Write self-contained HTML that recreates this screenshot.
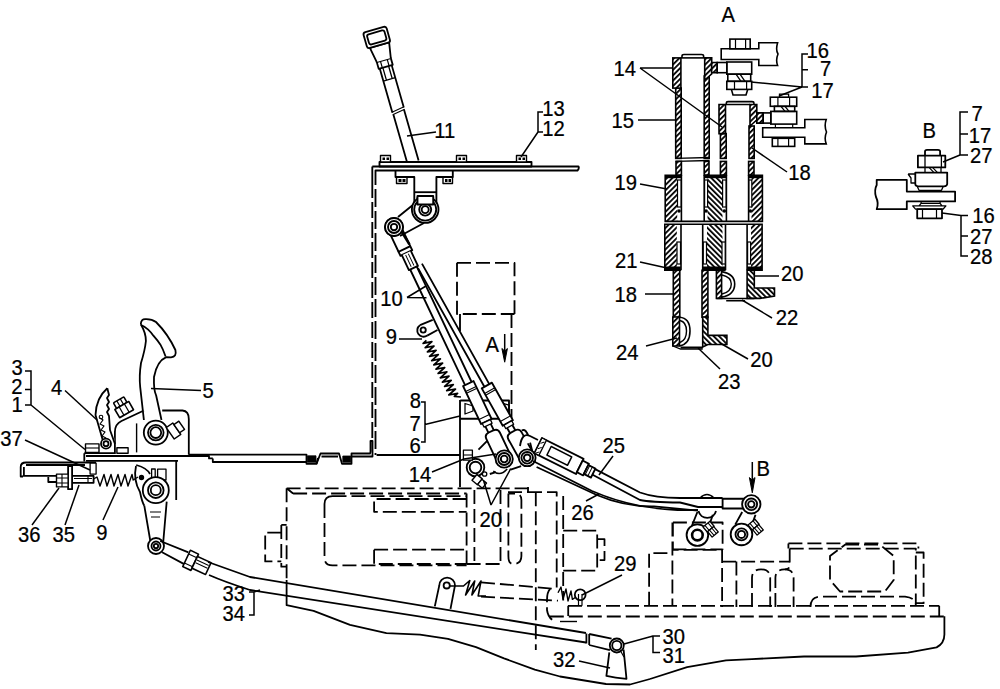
<!DOCTYPE html>
<html><head><meta charset="utf-8">
<style>
html,body{margin:0;padding:0;background:#fff;overflow:hidden;}
svg{display:block;}
text{font-family:"Liberation Sans",sans-serif;font-size:21.5px;fill:#000;stroke:#000;stroke-width:0.25px;}
</style></head>
<body>
<svg width="1000" height="689" viewBox="0 0 1000 689">
<g fill="none" stroke="#000" stroke-width="1.8" stroke-linejoin="round">
<!-- left casing -->
<g stroke-dasharray="14,5">
<path d="M286.6,488.3 H530 M293.1,493.5 H466.6 M286.6,488.3 L293.1,493.5"/>
<path d="M286.6,488.3 V580"/>
<path d="M281.3,524.9 H286.6 M281.3,524.9 V566.7 H286.6 M281.3,532.7 H265.2 V561.4 H281.3"/>
<path d="M332.5,496.1 H466.6 M324.5,504 V557.4 Q324.5,565.4 332.5,565.4 H466.6 M324.5,504 Q324.5,496.1 332.5,496.1"/>
<path d="M466.6,499 H374.1 V511.8 H466.6 M374.1,549.7 V564 H466.6 M374.1,549.7 H466.6"/>
<path d="M466.6,493.5 V564 M474.4,490 V564 M500.5,490 V564 M466.6,564 H500.5"/>
<path d="M508.4,493.5 V556 Q508.4,564 513,564 Q521.4,564 521.4,556 V500 Q521.4,493.5 515,493.5 H508.4"/>
<path d="M535.8,492.2 V650 M508,492.2 H528 L528,487 M528,492.2 H556.7 V587.6 M563.2,496 V600.6"/>
<path d="M563.2,530.6 H597.2 V570.6 H563.2 M597.2,539.2 H604.5 V560.1 H597.2"/>
<path d="M481,582.3 L555.4,588.9 M481,596.7 L558,600.6"/>
<path d="M550.2,588.9 Q547,592 547,600 V610 Q548,617 552.8,620.2"/>
<path d="M568,605.8 H939.2 M549.8,616.5 H944.4"/>
<path d="M649.1,605.8 V553.1 H672.4 M672.4,522.5 V605.8 M672.4,549.4 H722.6 M672.9,522.5 H722.6 V549.8 M672.9,522.5 V549.8 H722.6"/>
<path d="M722.1,549 V607 M736.4,561.6 V607 M722.1,561.6 H789.7"/>
<path d="M752,607 V578 Q752,569.4 761,569.4 Q770.2,569.4 770.2,578 V607 M775.4,607 V578 Q775.4,569.4 784.5,569.4 Q793.6,569.4 793.6,578 V607"/>
<path d="M789.7,548.6 V566 Q789.7,569 785,569.4"/>
<path d="M789.7,548.6 H915.8 V603.2 M788.4,543.4 H918.4 V548.6 M788.4,543.4 V548.6 M915.8,552.5 H923.6 V603.2 H915.8"/>
<path d="M845,544.7 H880 L893.7,556 V580 L885,591.5 H840 L830,580 V556 Z"/>
<path d="M810.5,607 Q810.5,596.7 820,596.7 H905 Q915.8,598 915.8,605"/>
</g>
<path d="M286.6,580 V605.2 L313.6,610.8 L350,624.8 L386.4,633.2 L420,634.6 L448,638.8 L476,647.2 L504,658.4 L534.8,669.6 L560,676.5 L606,684 L630,684.5 L650,679"/>
<path d="M650,679 L687.1,667.1 L726,660.4 L752,659.1 L804,656.5 L856,656.5 L908,652.6 L936.6,647.4 Q944.4,643 944.4,634.4 V616.2 M939.2,605.8 V616.2"/>
<path d="M560,621.5 H577" stroke-width="1.4"/>
<!-- spring 29 region -->
<path d="M434.8,606.4 L439.3,585.4 A7.8,7.8 0 0 1 455,585.4 L450.5,608.8" fill="#fff"/>
<circle cx="446.7" cy="585.4" r="3.1"/>
<path d="M449.8,586 H463.5 L469.8,580.5 L465.6,595 L474.7,581 L471.9,595 L481,581 L478.2,596 H486" stroke-width="1.6"/>
<path d="M558,592.8 L561,587 L563,599 L566,589 L568,601 L571,591 L572.4,599.3 L576,597" stroke-width="1.4"/>
<circle cx="580.2" cy="594.8" r="5.4" fill="#fff"/>
<path d="M578.5,594 V605.8 M582,594 V605.8" stroke-width="1.2"/>
<path d="M568.2,605.8 V616"/>
</g>

<g fill="none" stroke="#000" stroke-width="1.85" stroke-linejoin="round">
<!-- lever 11 -->
<g transform="translate(413,162) rotate(-16)" fill="#fff" stroke-width="1.8">
  <path d="M-5.8,0 V-51 M5.8,0 V-53 M-6.2,-53 V-99 M6.2,-55 V-99"/>
  <path d="M-6.5,-51 L6.5,-53 M-6.5,-53.5 L6.5,-55.5" stroke-width="1.1"/>
  <path d="M-3,-99 V-86 M3,-99 V-86 M-6.2,-86 H6.2" stroke-width="1.3"/>
  <path d="M-7.3,-99 H7.3 V-106 H-7.3 Z"/>
  <path d="M-3.5,-99 V-106 M3.5,-99 V-106" stroke-width="1.2"/>
  <path d="M-7.3,-106 L-10,-121.5 H10 L7.3,-106"/>
  <rect x="-12.5" y="-138" width="24" height="16.5" rx="2.5"/>
  <rect x="-9.5" y="-135" width="18" height="10.5" rx="2"/>
</g>
<!-- top plate -->
<rect x="379.5" y="162" width="152" height="4.5" fill="#fff"/>
<path d="M372.3,166.5 H578.5 Q579.5,168.5 577.5,170.5 H375.5 V176" />
<path d="M372.3,166.5 V182" />
<path d="M372.3,182 V441" stroke-dasharray="16,4"/>
<path d="M375.5,176 V455" stroke-dasharray="18,4" stroke-dashoffset="9"/>
<!-- nuts above -->
<g stroke-width="1.4">
<rect x="380.5" y="155.5" width="10" height="6.5" fill="#fff"/>
<rect x="456.5" y="155.5" width="10" height="6.5" fill="#fff"/>
<rect x="516.5" y="155.5" width="10" height="6.5" fill="#fff"/>
<rect x="396.5" y="177" width="10.5" height="6.5" fill="#fff"/>
<rect x="443" y="177" width="9.5" height="6.5" fill="#fff"/>
</g>
<g fill="#000" stroke="none">
<rect x="382.5" y="157.5" width="2.5" height="2.5"/><rect x="386.5" y="157.5" width="2.5" height="2.5"/>
<rect x="458.5" y="157.5" width="2.5" height="2.5"/><rect x="462.5" y="157.5" width="2.5" height="2.5"/>
<rect x="518.5" y="157.5" width="2.5" height="2.5"/><rect x="522.5" y="157.5" width="2.5" height="2.5"/>
<rect x="398.5" y="179" width="3" height="3"/><rect x="402.5" y="179" width="3" height="3"/>
<rect x="445" y="179" width="2.5" height="3"/><rect x="448.5" y="179" width="2.5" height="3"/>
</g>
<!-- bracket under plate -->
<path d="M395.5,170.5 V177 H414.3 V205 M452.8,170.5 V177 H436.4 V205" />
<path d="M414.3,192.2 H436.4"/>
<rect x="417.5" y="197.2" width="15.7" height="7.3"/>
<!-- link arm -->
<path d="M398,217 L419,200 M400,236 L424,223" fill="#fff"/>
<circle cx="425.2" cy="209.6" r="13.3" fill="#fff"/>
<circle cx="425.2" cy="209.6" r="11"/>
<circle cx="425.2" cy="209.6" r="6"/>
<circle cx="425.2" cy="209.6" r="3.5"/>
<rect x="417.5" y="196" width="15.7" height="8.5" fill="#fff"/>
<circle cx="394" cy="227" r="9" fill="#fff"/>
<circle cx="394" cy="227" r="6"/>
<circle cx="394" cy="227" r="3.5"/>
</g>

<g fill="none" stroke="#000" stroke-width="1.85" stroke-linejoin="round">
<!-- dashed box upper -->
<path d="M457,262.8 H514.5 V314 M457,262.8 V314 H514.5" stroke-dasharray="14,5"/>
<path d="M460,314 V331 M460,400 V487"/>
<path d="M511.5,314 V420" stroke-dasharray="14,5"/>
<path d="M376.6,455 H460"/>
<!-- bracket block 6/7/8 behind -->
<path d="M460.3,400.5 H509 V418.7 H460.3" />
<path d="M465,403.5 L473,406 L473,411 L465,414 Z M502,403 L509,405 V412 L502,414 Z" stroke-width="1.3"/>
<!-- spring 9 -->
<path d="M420,325.2 L432.7,319.9 M427.2,335.6 L437.5,330" />
<path d="M420,325.2 A6,6 0 0 0 427.2,335.6"/>
<circle cx="423.2" cy="330" r="2.6"/>
<path d="M426.4,340.4 L423.1,343.4 L431.9,341.7 L425.2,347.7 L434.0,346.0 L427.4,352.0 L436.1,350.3 L429.5,356.3 L438.3,354.6 L431.7,360.6 L440.4,358.9 L433.8,364.9 L442.6,363.2 L436.0,369.2 L444.7,367.5 L438.1,373.5 L446.9,371.8 L440.3,377.8 L449.0,376.1 L442.4,382.1 L451.2,380.4 L444.6,386.4 L453.3,384.7 L446.7,390.7 L455.5,389.0 L448.8,395.0 L457.6,393.3 L454.3,396.3 L461,397" stroke-width="1.7"/>
<path d="M478.5,449.6 L487.2,440.9 M521.8,430.5 Q526,428 528.8,437.5 L535,462 M521.1,466.1 L510.7,469.6 M495.9,472.2 L489.8,474"/>
<path d="M493.3,471 Q500,477 507.2,469" stroke-width="1.5"/>
<!-- rod B -->
<g transform="translate(415.6,258) rotate(-29.2)" fill="#fff">
  <path d="M-2.8,10 V146 M2.8,8 V146"/>
  <rect x="-5.8" y="146" width="11.6" height="43"/>
  <path d="M-5.8,152 H5.8 M-5.8,154 H5.8 M-5.8,184 H5.8" stroke-width="1.1"/>
  <path d="M-4.5,189 H4.5 V193 H-4.5 Z" stroke-width="1.3"/>
  <path d="M-3,193 V199 M3,199 V193"/>
  <path d="M-7.5,228 V204 Q-7.5,199 -2.5,199 H2.5 Q7.5,199 7.5,204 V228"/>
</g>
<!-- rod A -->
<g transform="translate(408.7,258) rotate(-25.4)" fill="#fff">
  <path d="M-3.6,11 V139 M3.6,11 V139"/>
  <rect x="-5.8" y="139" width="11.6" height="42"/>
  <path d="M-5.8,145 H5.8 M-5.8,147 H5.8 M-5.8,176 H5.8" stroke-width="1.1"/>
  <path d="M-4.5,181 H4.5 V185 H-4.5 Z" stroke-width="1.3"/>
  <path d="M-3,185 V192 M3,192 V185"/>
  <path d="M-7.5,221 V197 Q-7.5,192 -2.5,192 H2.5 Q7.5,192 7.5,197 V221"/>
  <!-- top rod end -->
  <path d="M-6.5,-10 H6.5 V-5.5 H-6.5 Z" fill="#fff"/>
  <path d="M-5,-5.5 V11 H5 V-5.5" fill="#fff"/>
  <path d="M-1.5,-4 V9 M1.5,-4 V9" stroke-width="0.9"/>
  <path d="M-6.5,-10 L-6.5,-30 M6.5,-10 L6.5,-28" />
  <path d="M6.5,-12 L5,-27" stroke-width="2.6"/>
</g>
<circle cx="394" cy="227" r="9" fill="#fff"/>
<circle cx="394" cy="227" r="6"/>
<circle cx="394" cy="227" r="3.2"/>
<!-- lower cluster: bracket plate -->
<circle cx="504.2" cy="459" r="8.6" fill="#fff"/>
<circle cx="504.2" cy="459" r="6"/>
<circle cx="504.2" cy="459" r="3.4"/>
<circle cx="527.2" cy="457.8" r="8.4" fill="#fff"/>
<circle cx="527.2" cy="457.8" r="5.8"/>
<circle cx="527.2" cy="457.8" r="3.3"/>
<!-- ring 14 -->
<circle cx="475.5" cy="467.5" r="8.8" fill="#fff"/>
<circle cx="475.5" cy="467.5" r="5.8"/>
<rect x="463.4" y="450.2" width="9" height="10" fill="#fff" stroke-width="1.3"/>
<path d="M463.4,455 H472.4" stroke-width="1.1"/>
<g transform="translate(479.8,481.8) rotate(40)" fill="#fff" stroke-width="1.4"><rect x="-7" y="-3.8" width="7" height="7.6"/><rect x="0" y="-3.3" width="6" height="6.6"/></g>
<circle cx="484.6" cy="474" r="2.2" fill="#fff" stroke-width="1.3"/>
</g>

<g fill="none" stroke="#000" stroke-width="1.85" stroke-linejoin="round">
<!-- rod 26 (lower) -->
<path d="M533,461 L592,491 Q640,512 698,510" />
<path d="M536.6,467 L596.8,495 Q625,507 654,506.4 L698,510.6"/>
<!-- rod 25 -->
<path d="M588.4,465.6 L640,492.5 Q655,498 680,498 H722.6"/>
<path d="M591.2,474 L640,500 Q650,502.2 680,502.5 L698,507 H722.6"/>
<!-- left eye (under rod) -->
<path d="M698.5,511 A9,9 0 0 0 716,511" />
<path d="M700,498 Q707,491 714,498" stroke-width="1.5"/>
<!-- left pivot arm -->
<path d="M697.4,512 L691.8,526 M712.8,514.8 L709.3,525.3"/>
<circle cx="697.4" cy="535.1" r="10.8" fill="#fff"/>
<circle cx="697.4" cy="535.1" r="5.3" stroke-width="2.6"/>
<g transform="translate(711,529.5) rotate(-40)"><rect x="-4.5" y="-7" width="9" height="6.5" fill="#fff" stroke-width="1.3"/><rect x="-4" y="-0.5" width="8" height="7" fill="#fff" stroke-width="1.3"/><path d="M-2,-7 V-0.5 M2,-7 V-0.5 M-1.5,-0.5 V6.5 M1.5,-0.5 V6.5" stroke-width="1"/></g>
<!-- right pivot arm -->
<path d="M742.2,512 L735.2,524.6 M755.5,514.8 L752,524.6"/>
<circle cx="741.5" cy="534.4" r="10.8" fill="#fff"/>
<circle cx="741.5" cy="534.4" r="6"/>
<circle cx="741.5" cy="534.4" r="3.6"/>
<g transform="translate(756,527.5) rotate(-40)"><rect x="-4.5" y="-7" width="9" height="6.5" fill="#fff" stroke-width="1.3"/><rect x="-4" y="-0.5" width="8" height="7" fill="#fff" stroke-width="1.3"/><path d="M-2,-7 V-0.5 M2,-7 V-0.5 M-1.5,-0.5 V6.5 M1.5,-0.5 V6.5" stroke-width="1"/></g>
<!-- rod 25 end -->
<rect x="722.6" y="498.7" width="21" height="9.8" fill="#fff"/>
<circle cx="751.3" cy="504.3" r="9.2" fill="#fff"/>
<circle cx="751.3" cy="504.3" r="5.8"/>
<circle cx="751.3" cy="504.3" r="3.2"/>
<!-- actuator body on rod 25 -->
<g transform="translate(538.2,445.6) rotate(26.6)" fill="#fff">
  <rect x="0" y="-8.5" width="46.5" height="17"/>
  <rect x="0" y="-8.5" width="5" height="17" stroke-width="1.3"/>
  <path d="M1,-3 L4,-6 M1,3 L4,0 M1,8 L4,5" stroke-width="1"/>
  <rect x="12" y="-5" width="23" height="9.5" stroke-width="1.5"/>
  <rect x="46.5" y="-6.5" width="7" height="13"/>
  <rect x="53.5" y="-5" width="8" height="10"/>
  <path d="M55,-5 V5 M58,-5 V5" stroke-width="1"/>
</g>
<path d="M520,446 Q522,432 530,436 L538,440" fill="#fff"/>
</g>

<g fill="none" stroke="#000" stroke-width="1.8" stroke-linejoin="round">
<!-- long plate from bracket to panel -->
<path d="M188.8,454.6 H306.5 V463.8 H316.5 L320.5,453.5 H339 L342,463.8 H351.5 V453.5 H370 Q370.5,453 370.5,451 V441 H372.5 V456.5 H351.5"/>
<path d="M212.8,458.4 V462 H306.5 M321.5,456.5 H338 M316.5,463.8 L318,458"/>
<rect x="307.5" y="455.8" width="8.5" height="6.5" fill="#000" stroke-width="0.8"/>
<rect x="342.8" y="456" width="8" height="6.3" fill="#000" stroke-width="0.8"/>
<path d="M212.8,458.4 H209 V456 H86"/>
<path d="M86,460.8 H178"/>
<!-- bracket upright -->
<path d="M114.9,454 V432 Q115,424 121.5,421 L143.9,410.5 M162.2,410.5 H182.5 Q188.8,411 188.8,419 V454.8"/>
<path d="M136.6,423.4 V452.4" stroke-width="1.4"/>
<!-- base plate -->
<path d="M84.3,453.2 V461.4 M84.3,453.2 H115"/>
<path d="M86,462.5 H96 M176.2,461 V500"/>
<!-- foot plate 37 -->
<path d="M86,462.5 H26 Q20.7,462.5 20.7,467 V476.5 H23 M23.9,467 V476 M26,465 H85 M22.8,475.9 H68.1"/>
<rect x="68.1" y="466" width="4" height="23.2" fill="#fff"/>
<rect x="90.1" y="463.1" width="6" height="11" fill="#fff" stroke-width="1.3"/>
<!-- bolt 35/36 -->
<path d="M48.3,477 V482 H56.5 M72.1,475.9 H93.6 V482.8 H72.1"/>
<rect x="56.5" y="474.1" width="11.6" height="12.8" fill="#fff" stroke-width="1.4"/>
<path d="M56.5,478 H68.1 M56.5,483 H68.1 M62,474.1 V486.9" stroke-width="1.1"/>
<path d="M74,478.5 H92 M88,476 V482.8" stroke-width="1.1"/>
<!-- spring 9 lower -->
<path d="M93.6,479 L97,477 L100,486 L104,474.5 L107,486 L111,474.5 L114,486 L118,474.5 L121,486 L125,474.5 L128,486 L132,474.5 L133.2,480 L138,477" stroke-width="1.4"/>
<circle cx="141.5" cy="477.5" r="1.8" fill="#000"/>
<!-- lower bracket around hub -->
<path d="M136.2,465 Q147,468 150,474 M136,466 Q133,480 140,492 Q142,502 144.3,505.7"/>
<rect x="151.6" y="469" width="3.6" height="11" stroke-width="1.3"/><rect x="157.6" y="469.2" width="8.4" height="10.8" stroke-width="1.3"/>
<!-- arm 33 -->
<path d="M144.3,505.7 L151,545 M166.7,501.6 L163,545" fill="#fff"/>
<path d="M150,512 H161 M151,517 H160" stroke-width="1.2"/>
<circle cx="155.8" cy="490.2" r="13" fill="#fff"/>
<circle cx="155.8" cy="490.2" r="7.8"/>
<circle cx="155.8" cy="490.2" r="5"/>
<circle cx="156" cy="546" r="8" fill="#fff"/>
<circle cx="156" cy="546" r="4.5"/>
<circle cx="156" cy="546" r="2.2"/>
<!-- ratchet 4 -->
<path d="M107.3,388.2 Q96,398 95.5,415 L103,441 M107.3,388.2 L109,395 L107,398 L109,402 L107,405 L109,409 L107,412 L109,416 L110,430 L115,444" fill="#fff"/>
<path d="M100,418 L103,420 L100,424 L104,426 L101,430 L105,432 L102,436 L106,438" stroke-width="1.2"/>
<circle cx="101" cy="417" r="1.8" stroke-width="1.1"/>
<circle cx="106" cy="443.7" r="5" fill="#fff"/>
<circle cx="106" cy="443.7" r="2.5"/>
<rect x="85.5" y="443.9" width="13.5" height="8.5" fill="#fff" stroke-width="1.4"/>
<path d="M85.5,448 H99" stroke-width="1.1"/>
<rect x="116.9" y="447.8" width="11.2" height="5.5" fill="#fff" stroke-width="1.4"/>
<!-- bolt stack upper -->
<g transform="translate(125,410) rotate(-30)" fill="#fff" stroke-width="1.6">
<rect x="-6.5" y="-12" width="12" height="6.5" rx="1"/><path d="M-2.5,-12 V-5.5 M1.5,-12 V-5.5" stroke-width="1.2"/>
<rect x="-8.5" y="-5.5" width="16" height="9.5"/><path d="M-3.5,-5.5 V4 M2.5,-5.5 V4" stroke-width="1.3"/>
</g>
<!-- pedal 5 -->
<path d="M140.8,324.2 Q141,318.5 146,319.1 Q152,319 156,322 Q168,334 175.4,350 Q177,357 171,357.3 L166.2,357.1 Q157,361 154,377 Q153.5,390 156.1,395.3 L161.5,420 M140.8,324.2 Q146,333 145.9,341 Q145,350 141,363 Q139,376 140.2,387.2 L143.9,420" fill="#fff"/>
<circle cx="155.8" cy="432.6" r="12" fill="#fff"/>
<circle cx="155.8" cy="432.6" r="7.8"/>
<circle cx="155.8" cy="432.6" r="5.4"/>
<g transform="translate(173.5,431) rotate(-35)" fill="#fff" stroke-width="1.4">
<rect x="-4" y="-7" width="8" height="14"/><rect x="4" y="-5" width="6" height="10"/>
</g>
<path d="M141,325 Q148,328 153.4,335.7 Q158,341 160.3,344.4 Q163,349 165.6,356.5"/>
</g>

<g fill="none" stroke="#000" stroke-width="1.8" stroke-linejoin="round">
<!-- rod end from arm eye -->
<path d="M160.2,541 L188.4,552.3 M162.1,552.3 L186.5,565.4"/>
<g transform="translate(192,561) rotate(25)" fill="#fff" stroke-width="1.6">
<rect x="-6" y="-9" width="9" height="18"/>
<rect x="3" y="-6.5" width="15" height="13"/>
<path d="M-6,-5 H3 M-6,5 H3" stroke-width="1.1"/>
<path d="M4,-3 H17 M4,0 H17" stroke-width="1"/>
</g>
<path d="M208,562 Q225,568 250,577 L586,633 M209,575 Q225,582 250,590 L586,642.5" stroke-width="1.8"/>
<path d="M586.4,633.5 V643.4 M589.2,634 V645 M589.2,634 L611.6,638.7 M589.2,645 L609.9,650.1"/>
<!-- lever 32 -->
<path d="M609.3,652.4 L606.4,675.9 Q615,678 626.5,678.8 L623.6,649.6" fill="#fff"/>
<circle cx="616.8" cy="645.5" r="7" fill="#fff"/>
<circle cx="616.8" cy="645.5" r="4.6"/>
<path d="M620,650 L624,657" stroke-width="1.2"/>
</g>

<defs>
<pattern id="h" patternUnits="userSpaceOnUse" width="3.8" height="3.8" patternTransform="rotate(45)">
<rect width="3.8" height="3.8" fill="#fff"/>
<rect x="0" y="0" width="1.8" height="3.8" fill="#000"/>
</pattern>
<pattern id="h2" patternUnits="userSpaceOnUse" width="3.8" height="3.8" patternTransform="rotate(-45)">
<rect width="3.8" height="3.8" fill="#fff"/>
<rect x="0" y="0" width="1.8" height="3.8" fill="#000"/>
</pattern>
</defs>
<g fill="none" stroke="#000" stroke-width="1.6" stroke-linejoin="miter">
<!-- left tube walls -->
<rect x="675.7" y="88" width="5.5" height="70.4" fill="url(#h)"/>
<rect x="704.2" y="76" width="5" height="82.4" fill="url(#h)"/>
<rect x="676" y="161.4" width="5.4" height="13.8" fill="url(#h)"/>
<rect x="704.2" y="161.4" width="4.8" height="13.8" fill="url(#h)"/>
<path d="M675.7,158.4 L709.5,157.5 M675.7,161.4 L709.5,160.5" stroke-width="1.3"/>
<!-- left collar 14 -->
<rect x="672.8" y="57.9" width="8.1" height="30.2" fill="url(#h)"/>
<path d="M704.7,57.9 H711.7 V74 L704.7,80 Z" fill="url(#h)"/>
<path d="M682,57.9 V56 Q682,54.5 684,54.5 H701.5 Q703.6,54.5 703.6,56 V57.9"/>
<path d="M680.9,57.9 H704.7"/>
<path d="M711.7,62.5 L717.2,62.5 V72.7 H711.7 Z" fill="url(#h)"/>
<rect x="717.2" y="62.5" width="9.6" height="10.2"/>
<rect x="726.8" y="62" width="24.9" height="12.2"/>
<rect x="727.8" y="74.2" width="22.9" height="7.1"/>
<path d="M736,74.2 L741,81.3 M740,74.2 L745,81.3" stroke-width="1.3"/>
<rect x="726.8" y="81.3" width="24.9" height="8.1"/>
<path d="M734.5,81.3 V89.4 M746.6,81.3 V89.4" stroke-width="1.2"/>
<path d="M731.4,89.4 L733,95 H746 L747.7,89.4"/>
<path d="M721.2,48.8 H758.8 V42.7 H777.6 Q775.5,50 778,54 Q775.5,60 777.6,65.5 H758.8 V59.5 H721.2 Z" fill="#fff"/>
<rect x="729.9" y="39.1" width="20.3" height="9.7" fill="#fff"/>
<path d="M735.5,39.1 V48.8 M745.6,39.1 V48.8" stroke-width="1.2"/>
<!-- right tube (tube 2) -->
<rect x="720.4" y="133.6" width="5.8" height="24.8" fill="url(#h)"/>
<rect x="749" y="126" width="5.2" height="32.4" fill="url(#h)"/>
<rect x="720.4" y="161.4" width="6" height="13.8" fill="url(#h)"/>
<rect x="748.6" y="161.4" width="5.4" height="13.8" fill="url(#h)"/>
<path d="M719,104.5 H725.5 V133.6 H719 Z" fill="url(#h)"/>
<path d="M750,104.5 H756.8 V120 L750,126 Z" fill="url(#h)"/>
<path d="M726.3,104.5 V103 Q726.3,101.6 728,101.6 H752 Q753.9,101.6 753.9,103 V104.5 M725.5,104.5 H750"/>
<path d="M756.8,112.9 L763.2,112.9 V123.1 H756.8 Z" fill="url(#h)"/>
<rect x="763.2" y="112.9" width="7.6" height="10.2"/>
<rect x="770.8" y="111.4" width="25.9" height="12.7"/>
<rect x="774.4" y="106.3" width="20.3" height="5.1"/>
<path d="M781,106.3 L785,111.4 M785,106.3 L789,111.4" stroke-width="1.3"/>
<rect x="770.3" y="97.2" width="26.4" height="9.1"/>
<path d="M777.9,97.2 V106.3 M789.6,97.2 V106.3" stroke-width="1.2"/>
<path d="M779.5,97.2 V94.1 H788.6 V97.2" stroke-width="1.3"/>
<path d="M775.4,124.1 V127.7 M792.7,124.1 V127.7" stroke-width="1.2"/>
<path d="M762.7,127.7 H804.8 V119.5 H826.2 Q824,126 826.5,132 Q824,138 826.2,143.9 H804.8 V137.3 H762.7 Z" fill="#fff"/>
<rect x="772.3" y="138.3" width="22.4" height="8.1"/>
<path d="M777.9,138.3 V146.4 M788.6,138.3 V146.4" stroke-width="1.2"/>
<!-- housing 19 -->
<rect x="665.2" y="175.2" width="12" height="46.2" fill="url(#h)" stroke="none"/>
<rect x="707.5" y="175.2" width="15" height="46.2" fill="url(#h2)" stroke="none"/>
<rect x="751.5" y="175.2" width="10.9" height="46.2" fill="url(#h)" stroke="none"/>
<path d="M681.4,175.2 H665.2 V221.4 H762.4 V175.2 H748.6 M704.2,175.2 H726.4"/>
<path d="M681.4,175.2 V221.4 M704.2,175.2 V221.4 M726.4,175.2 V221.4 M748.6,175.2 V221.4"/>
<g stroke-width="1.2" fill="#fff">
<rect x="677.5" y="180" width="3.5" height="27"/><rect x="704.6" y="180" width="3" height="27"/>
<rect x="722.6" y="180" width="3.4" height="27"/><rect x="749" y="180" width="2.8" height="27"/>
</g>
<g fill="#000" stroke="none">
<circle cx="679" cy="211" r="1.8"/><circle cx="706" cy="211" r="1.8"/><circle cx="724.3" cy="211" r="1.8"/><circle cx="750.3" cy="211" r="1.8"/>
<rect x="665.2" y="175.2" width="16" height="3"/><rect x="704.2" y="175.2" width="22" height="3"/><rect x="748.6" y="175.2" width="13.8" height="3"/>
</g>
<!-- housing 21 -->
<rect x="664.8" y="224.2" width="12" height="46.1" fill="url(#h)" stroke="none"/>
<rect x="707" y="224.2" width="15.5" height="46.1" fill="url(#h2)" stroke="none"/>
<rect x="751" y="224.2" width="11.1" height="46.1" fill="url(#h)" stroke="none"/>
<path d="M681,270.3 H664.8 V224.2 H762.1 V270.3 H747.1 M702.7,270.3 H725.5"/>
<path d="M681,224.2 V270.3 M702.7,224.2 V270.3 M725.5,224.2 V270.3 M747.1,224.2 V270.3"/>
<g stroke-width="1.2" fill="#fff">
<rect x="677" y="242" width="3.5" height="22"/><rect x="703.3" y="242" width="3.2" height="22"/>
<rect x="722" y="242" width="3.2" height="22"/><rect x="747.6" y="242" width="3" height="22"/>
</g>
<g fill="#000" stroke="none">
<rect x="664.8" y="266.5" width="16" height="3.8"/><rect x="702.7" y="266.5" width="22.8" height="3.8"/><rect x="747.1" y="266.5" width="15" height="3.8"/>
</g>
<!-- left tube lower -->
<rect x="673.3" y="270.3" width="6.5" height="47" fill="url(#h)"/>
<rect x="702" y="270.3" width="5.9" height="47" fill="url(#h)"/>
<path d="M672.8,317 H679.5 V346 H672.8 Z" fill="url(#h)"/>
<path d="M679.5,317.2 Q690,318 690,331 Q690,344 679.5,346" stroke-width="1.6"/>
<path d="M680,320.5 Q686.5,322 686.5,331 Q686.5,340 680,342.5" stroke-width="1.4"/>
<path d="M702.7,317 H707.9 V335.4 H726.9 V344.5 H707.9 L702.7,347 Z" fill="url(#h2)"/>
<path d="M680.6,347.5 H702.7" stroke-width="2"/>
<path d="M672.8,346 L680.6,349 H702.7" stroke-width="1.3"/>
<!-- right tube lower -->
<rect x="716.4" y="270.3" width="5.2" height="28.1" fill="url(#h)"/>
<path d="M721.6,271.6 Q734.7,274 734.7,284 Q734.7,295 721.6,297.1" stroke-width="1.6"/>
<path d="M722,275 Q731.3,277 731.3,284 Q731.3,292 722,294" stroke-width="1.4"/>
<path d="M747.1,270.3 H754.3 V288 H774.5 V296 L760,298.4 H747.1 Z" fill="url(#h2)"/>
<path d="M716.4,298.4 H754.3 M726.2,300.7 H745.1" stroke-width="1.5"/>
</g>

<g fill="none" stroke="#000" stroke-width="1.8" stroke-linejoin="round">
<path d="M876.7,179.8 H906.8 V191.6 H955.1 V201.4 H906.8 V209.2 H876.7 Q879,203 876,197 Q874,190 876.7,185 Z"/>
<path d="M925,155.7 V151.5 Q925,149.8 927,149.8 H938 Q940.1,149.8 940.1,151.5 V155.7"/>
<rect x="917.9" y="155.7" width="27.4" height="11.7"/>
<path d="M925,155.7 V167.4 M941.4,155.7 V167.4" stroke-width="1.3"/>
<path d="M925,167.4 V172.6 M941,167.4 V172.6 M929,167.4 L934,172.6 M932.5,167.4 L937.5,172.6" stroke-width="1.3"/>
<path d="M915.3,172.6 H947.2 V184 Q947,186.3 944,186.3 H918 Q915.3,186 915.3,184 Z"/>
<path d="M908.1,174 H915.3 M908.1,174 L911,178 V183 H915.3" stroke-width="1.3"/>
<path d="M917.2,186.3 L919,190.3 H941.5 L943.3,186.3" stroke-width="1.3"/>
<path d="M921.1,201.4 V203.3 H940.1 V201.4 M912.7,205.9 H945.9 L943,209.2 H915.5 Z M921.1,203.3 L919,205.9 M940.1,203.3 L942,205.9" stroke-width="1.3"/>
<rect x="917.2" y="209.2" width="24.8" height="9.1"/>
<path d="M922.5,209.2 V218.3 M936.5,209.2 V218.3" stroke-width="1.2"/>
</g>

<g fill="none" stroke="#000" stroke-width="1.5">
<!-- detail A leaders -->
<path d="M640,68 H673 M640,68 L722,127"/>
<path d="M638,120 H675"/>
<path d="M808,54 H802 V87 M802,69.7 H808 M802,87 L751,82 M802,87 L779,96 M802,87 H808"/>
<path d="M787,172 L752,148"/>
<path d="M640,184 L667,189"/>
<path d="M640,262 L667,268"/>
<path d="M755,276 H779"/>
<path d="M645,294 H673"/>
<path d="M742,300 L772,318"/>
<path d="M646,346 L677,338"/>
<path d="M720,343 L748,359"/>
<path d="M698,348 L720,369"/>
<!-- left -->
<path d="M25,371 H31 V405 H25 M25,389.6 H31 M31,405 L85,449.5"/>
<path d="M65,390.5 L97,420"/>
<path d="M151,388.5 L201,390.5"/>
<path d="M25,440 L90,470"/>
<path d="M32,525 L59,488"/>
<path d="M65,525 L79,485"/>
<path d="M103,520 L118,487"/>
<path d="M249,592 H254 V615 H249 M254,592 L260,590"/>
<!-- center -->
<path d="M407,136 L436,132"/>
<path d="M543,112 H538 V132 H543 M538,132 L521,157"/>
<path d="M407,297.5 L426,286 M407,297.5 L426.5,297.7"/>
<path d="M399,339 H422"/>
<path d="M421,402 H425 V442 H421 M425,424.5 L460,416"/>
<path d="M432,472 L464,459 L496,454"/>
<path d="M491,505 L483.7,481 M491,505 L510.7,468.7"/>
<path d="M613,456 L599,475"/>
<path d="M586,501 L599,494"/>
<path d="M579,661 L610,668"/>
<path d="M622,575 L582,595"/>
<path d="M660,636 H653 V652.5 H660 M653,636 L624,644"/>
<!-- detail B -->
<path d="M968,112 H960 V155 H968 M960,134 H968 M960,155 L943,162"/>
<path d="M968,215.5 H961 V256 H968 M961,236 H968 M961,215.5 L942,213"/>
</g>
<g fill="#000" stroke="#000" stroke-width="1.5">
<path d="M504.7,334 V352" fill="none"/><path d="M501.9,348.5 L504.7,362.2 L507.4,348.5 L504.7,351 Z" stroke-width="1"/>
<path d="M752.3,462 V482" fill="none"/><path d="M749.4,477.6 L752.3,492.8 L755,477.6 L752.3,480 Z" stroke-width="1"/>
</g>


<g>
<text transform="translate(721.6,21.9) scale(0.94,1)">A</text>
<text transform="translate(613.5,76.0) scale(0.94,1)">14</text>
<text transform="translate(611.5,127.5) scale(0.94,1)">15</text>
<text transform="translate(806.5,57.8) scale(0.94,1)">16</text>
<text transform="translate(820.0,76.0) scale(0.94,1)">7</text>
<text transform="translate(811.2,98.1) scale(0.94,1)">17</text>
<text transform="translate(788.3,180.1) scale(0.94,1)">18</text>
<text transform="translate(614.5,190.0) scale(0.94,1)">19</text>
<text transform="translate(615.0,268.0) scale(0.94,1)">21</text>
<text transform="translate(781.0,281.4) scale(0.94,1)">20</text>
<text transform="translate(614.5,301.6) scale(0.94,1)">18</text>
<text transform="translate(775.8,325.1) scale(0.94,1)">22</text>
<text transform="translate(616.0,359.9) scale(0.94,1)">24</text>
<text transform="translate(750.3,367.2) scale(0.94,1)">20</text>
<text transform="translate(718.0,389.3) scale(0.94,1)">23</text>
<text transform="translate(11.4,375.4) scale(0.94,1)">3</text>
<text transform="translate(11.2,393.7) scale(0.94,1)">2</text>
<text transform="translate(11.5,412.0) scale(0.94,1)">1</text>
<text transform="translate(50.9,394.6) scale(0.94,1)">4</text>
<text transform="translate(202.6,397.8) scale(0.94,1)">5</text>
<text transform="translate(0.2,446.0) scale(0.94,1)">37</text>
<text transform="translate(17.9,541.6) scale(0.94,1)">36</text>
<text transform="translate(52.5,541.6) scale(0.94,1)">35</text>
<text transform="translate(96.3,540.1) scale(0.94,1)">9</text>
<text transform="translate(222.6,600.6) scale(0.94,1)">33</text>
<text transform="translate(222.6,620.6) scale(0.94,1)">34</text>
<text transform="translate(434.3,138.2) scale(0.94,1)">11</text>
<text transform="translate(542.3,115.6) scale(0.94,1)">13</text>
<text transform="translate(542.3,136.4) scale(0.94,1)">12</text>
<text transform="translate(380.3,305.9) scale(0.94,1)">10</text>
<text transform="translate(385.8,343.6) scale(0.94,1)">9</text>
<text transform="translate(485.4,351.6) scale(0.94,1)">A</text>
<text transform="translate(409.7,407.6) scale(0.94,1)">8</text>
<text transform="translate(409.5,430.9) scale(0.94,1)">7</text>
<text transform="translate(409.5,452.6) scale(0.94,1)">6</text>
<text transform="translate(408.8,482.2) scale(0.94,1)">14</text>
<text transform="translate(479.4,527.4) scale(0.94,1)">20</text>
<text transform="translate(571.2,520.0) scale(0.94,1)">26</text>
<text transform="translate(553.0,666.6) scale(0.94,1)">32</text>
<text transform="translate(614.0,570.8) scale(0.94,1)">29</text>
<text transform="translate(662.6,644.3) scale(0.94,1)">30</text>
<text transform="translate(662.6,663.2) scale(0.94,1)">31</text>
<text transform="translate(602.6,452.8) scale(0.94,1)">25</text>
<text transform="translate(756.4,476.1) scale(0.94,1)">B</text>
<text transform="translate(922.4,137.5) scale(0.94,1)">B</text>
<text transform="translate(971.4,120.9) scale(0.94,1)">7</text>
<text transform="translate(968.7,143.0) scale(0.94,1)">17</text>
<text transform="translate(970.0,162.9) scale(0.94,1)">27</text>
<text transform="translate(972.3,223.0) scale(0.94,1)">16</text>
<text transform="translate(970.0,243.7) scale(0.94,1)">27</text>
<text transform="translate(970.0,264.4) scale(0.94,1)">28</text>
</g>
</svg>
</body></html>
